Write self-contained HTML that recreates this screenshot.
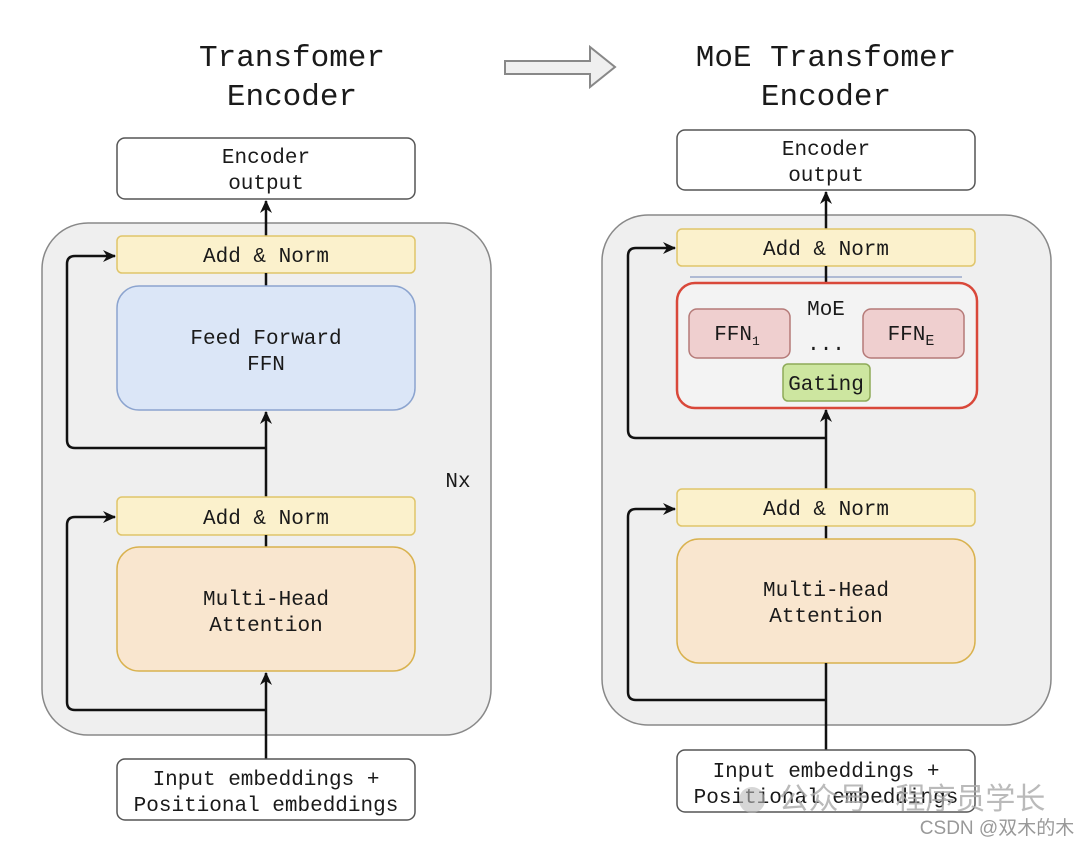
<!DOCTYPE html>
<html><head><meta charset="utf-8"><style>
html,body{margin:0;padding:0;background:#fff;}
svg{display:block;}
text{font-family:"Liberation Mono","DejaVu Sans Mono",monospace;fill:#1a1a1a;text-anchor:middle;}
.t{font-size:31px;}
.b{font-size:21px;}
</style></head><body>
<svg width="1080" height="842" viewBox="0 0 1080 842" xmlns="http://www.w3.org/2000/svg">
<defs>
<marker id="a" markerWidth="14" markerHeight="14" refX="12" refY="7" orient="auto" markerUnits="userSpaceOnUse" viewBox="0 0 14 14">
<path d="M0,1 L13,7 L0,13 L4,7 z" fill="#111"/>
</marker>
</defs>
<!-- titles -->
<text class="t" x="292" y="66">Transfomer</text>
<text class="t" x="292" y="105">Encoder</text>
<text class="t" x="826" y="66">MoE Transfomer</text>
<text class="t" x="826" y="105">Encoder</text>
<path d="M505,61 L590,61 L590,47 L615,67 L590,87 L590,74 L505,74 Z" fill="#efefef" stroke="#888" stroke-width="2"/>

<!-- LEFT -->
<rect x="42" y="223" width="449" height="512" rx="46" fill="#efefef" stroke="#888" stroke-width="1.5"/>
<rect x="117" y="138" width="298" height="61" rx="8" fill="#fff" stroke="#555" stroke-width="1.5"/>
<text class="b" x="266" y="163">Encoder</text>
<text class="b" x="266" y="189">output</text>
<line x1="266" y1="236" x2="266" y2="201" stroke="#111" stroke-width="2.5" marker-end="url(#a)"/>
<rect x="117" y="236" width="298" height="37" rx="5" fill="#fbf1cc" stroke="#e0c56a" stroke-width="1.5"/>
<text class="b" x="266" y="262">Add &amp; Norm</text>
<line x1="266" y1="273" x2="266" y2="286" stroke="#111" stroke-width="2.5"/>
<rect x="117" y="286" width="298" height="124" rx="22" fill="#dbe6f7" stroke="#8ca4cf" stroke-width="1.5"/>
<text class="b" x="266" y="344">Feed Forward</text>
<text class="b" x="266" y="370">FFN</text>
<line x1="266" y1="497" x2="266" y2="412" stroke="#111" stroke-width="2.5" marker-end="url(#a)"/>
<path d="M266,448 L75,448 Q67,448 67,440 L67,264 Q67,256 75,256 L115,256" fill="none" stroke="#111" stroke-width="2.5" marker-end="url(#a)"/>
<rect x="117" y="497" width="298" height="38" rx="5" fill="#fbf1cc" stroke="#e0c56a" stroke-width="1.5"/>
<text class="b" x="266" y="524">Add &amp; Norm</text>
<line x1="266" y1="535" x2="266" y2="547" stroke="#111" stroke-width="2.5"/>
<rect x="117" y="547" width="298" height="124" rx="22" fill="#f9e6cf" stroke="#d9b24f" stroke-width="1.5"/>
<text class="b" x="266" y="605">Multi-Head</text>
<text class="b" x="266" y="631">Attention</text>
<line x1="266" y1="759" x2="266" y2="673" stroke="#111" stroke-width="2.5" marker-end="url(#a)"/>
<path d="M266,710 L75,710 Q67,710 67,702 L67,525 Q67,517 75,517 L115,517" fill="none" stroke="#111" stroke-width="2.5" marker-end="url(#a)"/>
<text class="b" x="458" y="487">Nx</text>
<rect x="117" y="759" width="298" height="61" rx="8" fill="#fff" stroke="#555" stroke-width="1.5"/>
<text class="b" x="266" y="785">Input embeddings +</text>
<text class="b" x="266" y="811">Positional embeddings</text>

<!-- RIGHT -->
<rect x="602" y="215" width="449" height="510" rx="46" fill="#efefef" stroke="#888" stroke-width="1.5"/>
<rect x="677" y="130" width="298" height="60" rx="8" fill="#fff" stroke="#555" stroke-width="1.5"/>
<text class="b" x="826" y="155">Encoder</text>
<text class="b" x="826" y="181">output</text>
<line x1="826" y1="229" x2="826" y2="192" stroke="#111" stroke-width="2.5" marker-end="url(#a)"/>
<rect x="677" y="229" width="298" height="37" rx="5" fill="#fbf1cc" stroke="#e0c56a" stroke-width="1.5"/>
<text class="b" x="826" y="255">Add &amp; Norm</text>
<line x1="690" y1="277" x2="962" y2="277" stroke="#9aa8cc" stroke-width="1.5"/>
<line x1="826" y1="266" x2="826" y2="283" stroke="#111" stroke-width="2.5"/>
<rect x="677" y="283" width="300" height="125" rx="18" fill="#f3f3f3" stroke="#d9483a" stroke-width="2.5"/>
<text class="b" x="826" y="315">MoE</text>
<rect x="689" y="309" width="101" height="49" rx="8" fill="#efcfcf" stroke="#b57a78" stroke-width="1.5"/>
<text class="b" x="737" y="340">FFN<tspan font-size="13" dy="5">1</tspan></text>
<rect x="863" y="309" width="101" height="49" rx="8" fill="#efcfcf" stroke="#b57a78" stroke-width="1.5"/>
<text class="b" x="911" y="340">FFN<tspan font-size="15" dy="5">E</tspan></text>
<text class="b" x="826" y="350">...</text>
<rect x="783" y="364" width="87" height="37" rx="5" fill="#cde6a0" stroke="#8eaa58" stroke-width="1.5"/>
<text class="b" x="826" y="390">Gating</text>
<line x1="826" y1="489" x2="826" y2="410" stroke="#111" stroke-width="2.5" marker-end="url(#a)"/>
<path d="M826,438 L636,438 Q628,438 628,430 L628,256 Q628,248 636,248 L675,248" fill="none" stroke="#111" stroke-width="2.5" marker-end="url(#a)"/>
<rect x="677" y="489" width="298" height="37" rx="5" fill="#fbf1cc" stroke="#e0c56a" stroke-width="1.5"/>
<text class="b" x="826" y="515">Add &amp; Norm</text>
<line x1="826" y1="526" x2="826" y2="539" stroke="#111" stroke-width="2.5"/>
<rect x="677" y="539" width="298" height="124" rx="22" fill="#f9e6cf" stroke="#d9b24f" stroke-width="1.5"/>
<text class="b" x="826" y="596">Multi-Head</text>
<text class="b" x="826" y="622">Attention</text>
<line x1="826" y1="750" x2="826" y2="663" stroke="#111" stroke-width="2.5"/>
<path d="M826,700 L636,700 Q628,700 628,692 L628,517 Q628,509 636,509 L675,509" fill="none" stroke="#111" stroke-width="2.5" marker-end="url(#a)"/>
<rect x="677" y="750" width="298" height="62" rx="8" fill="#fff" stroke="#555" stroke-width="1.5"/>
<text class="b" x="826" y="777">Input embeddings +</text>
<text class="b" x="826" y="803">Positional embeddings</text>
<!-- watermark -->
<circle cx="752" cy="800" r="13" fill="#bbb" opacity="0.6"/>
<text x="912" y="809" style="font-family:'Liberation Sans','Noto Sans CJK SC',sans-serif;font-size:30px;fill:#aaa;opacity:0.8">公众号 · 程序员学长</text>
<text x="997" y="834" style="font-family:'Liberation Sans','Noto Sans CJK SC',sans-serif;font-size:19px;fill:#999">CSDN @双木的木</text>
</svg>
</body></html>
